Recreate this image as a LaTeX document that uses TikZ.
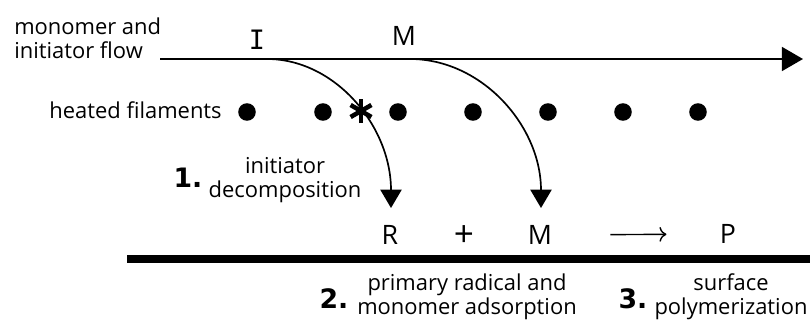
\documentclass[tikz,border=0pt]{standalone}
\usepackage{fontspec}
\setmainfont{Open Sans}
\newfontfamily\serifI{DejaVu Sans Mono}
\newfontfamily\heavy{DejaVu Sans}
\usetikzlibrary{arrows.meta,positioning}

\tikzset{
  txt/.style={font=\fontsize{15.6}{16.4}\selectfont, inner sep=0pt, align=center},
  spec/.style={font=\fontsize{19}{19}\selectfont, inner sep=0pt},
  num/.style={font=\fontsize{19}{19}\heavy\bfseries, inner sep=0pt},
  filament/.style={circle, fill=black, inner sep=0pt, minimum size=12.5pt},
  flow/.style={line width=1.4pt, -{Triangle[length=15pt, width=17pt]}},
  drop/.style={line width=1.2pt, -{Triangle[length=13pt, width=15pt]}}
}

\begin{document}
\begin{tikzpicture}[x=0.025cm, y=-0.025cm]
    \useasboundingbox (0,0) rectangle (810,323);

    % gas flow
    \node[txt, align=left, anchor=base west] (flowlbl) at (14,58) {monomer and\\initiator flow};
    \coordinate (flowstart) at (160,59);
    \coordinate (flowend) at (803,59);
    \draw[flow] (flowstart) -- (flowend);
    \node[spec] (I) at (257,40) {\serifI I};
    \node[spec] (Mgas) at (404,36) {M};

    % filaments
    \node[txt, anchor=base east] (fillbl) at (222,118) {heated filaments};
    \foreach \x [count=\i] in {247,323,398,473,548,623,698}
        \node[filament] (fil\i) at (\x,112) {};
    \coordinate (spark) at (361,111);
    \foreach \a in {90,30,150}
        \draw[line width=3.2pt] (spark) ++(\a:12) -- ++(\a+180:24);

    % surface species
    \node[spec] (R) at (390,235) {R};
    \node[spec, font=\fontsize{25}{25}\selectfont] (plus) at (464,236) {+};
    \node[spec] (Msurf) at (540,235) {M};
    \node[spec] (P) at (728,234) {P};
    \draw[line width=1pt, -{To[length=5pt]}, shorten <=1.45cm, shorten >=1.33cm] (Msurf) -- (P);

    \coordinate (Ioff) at (267,59);
    \coordinate (Moff) at (410,59);
    \draw[drop] (Ioff) .. controls (335,59) and (391,126) .. (391,208);
    \draw[drop] (Moff) .. controls (482,59) and (541,126) .. (541,208);

    % substrate
    \coordinate (surfL) at (127,259);
    \coordinate (surfR) at (810,259);
    \draw[line width=5pt] (surfL) -- (surfR);

    % steps
    \node[num] (n1) at (188,178) {1.};
    \node[txt, anchor=base] (decomp) at (285,197) {initiator\\decomposition};
    \node[num] (n2) at (334,299) {2.};
    \node[txt, anchor=base] (adsorb) at (467,314) {primary radical and\\monomer adsorption};
    \node[num] (n3) at (633,299) {3.};
    \node[txt, anchor=base] (polym) at (731,314) {surface\\polymerization};
\end{tikzpicture}
\end{document}
